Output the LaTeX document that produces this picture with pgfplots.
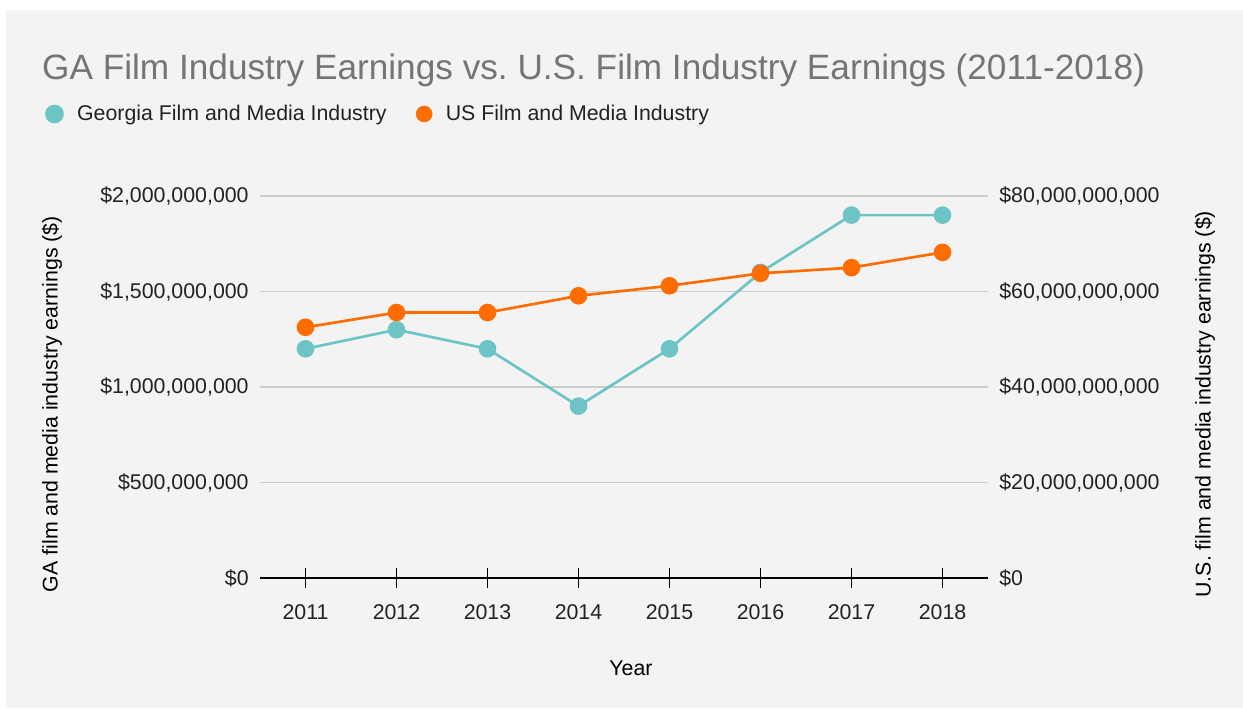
\documentclass[border=0pt]{standalone}
\usepackage{fontspec}
\setmainfont[Ligatures=CommonOff]{Liberation Sans}
\usepackage{pgfplots}
\pgfplotsset{compat=1.18}
\definecolor{bgc}{HTML}{F3F3F3}
\definecolor{tealc}{HTML}{6CC4C4}
\definecolor{orngc}{HTML}{FF6D01}
\definecolor{gridc}{HTML}{CCCCCC}
\definecolor{titlec}{HTML}{757575}
\definecolor{txtc}{HTML}{222222}
\begin{document}
\frenchspacing
\begin{tikzpicture}
\fill[white] (0,0) rectangle (932.25pt,531pt);
\fill[bgc] (4.5pt,0) rectangle (932.25pt,523.5pt);
\pgfplotsset{
  commonstyle/.style={
    at={(195pt,97.5pt)}, anchor=south west, scale only axis,
    width=546pt, height=286.5pt,
    xmin=2010.5, xmax=2018.5, clip=false,
    font=\fontsize{16}{19}\selectfont,
    tick label style={text=txtc},
    scaled ticks=false,
    y axis line style={draw=none},
    ytick align=inside,
  }
}
\begin{axis}[commonstyle,
  ymin=0, ymax=2e9,
  axis x line*=bottom, axis y line*=left,
  x axis line style={-, black, line width=0.8pt},
  xtick={2011,2012,2013,2014,2015,2016,2017,2018},
  xticklabels={2011,2012,2013,2014,2015,2016,2017,2018},
  xticklabel style={yshift=-9pt},
  xtick align=center,
  major tick length=15.5pt,
  x tick style={black, line width=0.8pt},
  y tick style={draw=none},
  ytick={0,5e8,1e9,1.5e9,2e9},
  yticklabels={\$0,{\$500,000,000},{\$1,000,000,000},{\$1,500,000,000},{\$2,000,000,000}},
  yticklabel style={xshift=-5pt},
  ymajorgrids, grid style={gridc, line width=0.8pt},
  xlabel={Year},
  every axis x label/.style={at={(axis description cs:0.5096,-0.2356)}, anchor=center},
  ylabel={GA film and media industry earnings (\$)},
  every axis y label/.style={at={(axis description cs:-0.2857,0.455)}, rotate=90, anchor=center},
  title={GA Film Industry Earnings vs. U.S. Film Industry Earnings (2011-2018)},
  title style={at={(axis description cs:-0.2995,1.309)}, anchor=west, inner sep=0pt,
    font=\fontsize{26.4}{30}\selectfont, text=titlec},
  legend columns=2,
  legend style={at={(axis description cs:-0.2955,1.2147)}, anchor=west, draw=none, fill=none,
    inner sep=0pt, nodes={inner sep=0pt, text=txtc},
    /tikz/every odd column/.append style={column sep=10pt},
    /tikz/every even column/.append style={column sep=22pt}},
]
\addplot[tealc, line width=2pt, mark=*, mark size=5.6pt, mark options={fill=tealc, draw=none},
  legend image code/.code={\fill[tealc] (6pt,0) circle (6pt);}]
  coordinates {(2011,1.2e9) (2012,1.3e9) (2013,1.2e9) (2014,0.9e9) (2015,1.2e9) (2016,1.6e9) (2017,1.9e9) (2018,1.9e9)};
\addlegendentry{Georgia Film and Media Industry}
\addlegendimage{legend image code/.code={\fill[orngc] (6pt,0) circle (6pt);}}
\addlegendentry{US Film and Media Industry}
\end{axis}
\begin{axis}[commonstyle,
  ymin=0, ymax=80e9,
  axis x line=none, axis y line*=right,
  y tick style={draw=none},
  ytick={0,2e10,4e10,6e10,8e10},
  yticklabels={\$0,{\$20,000,000,000},{\$40,000,000,000},{\$60,000,000,000},{\$80,000,000,000}},
  yticklabel style={anchor=west, xshift=5pt},
  ylabel={U.S. film and media industry earnings (\$)},
  every axis y label/.style={at={(axis description cs:1.298,0.455)}, rotate=90, anchor=center},
]
\addplot[orngc, line width=2pt, mark=*, mark size=5.6pt, mark options={fill=orngc, draw=none}]
  coordinates {(2011,52.5e9) (2012,55.6e9) (2013,55.6e9) (2014,59.1e9) (2015,61.2e9) (2016,63.8e9) (2017,65.0e9) (2018,68.2e9)};
\end{axis}
\end{tikzpicture}
\end{document}
